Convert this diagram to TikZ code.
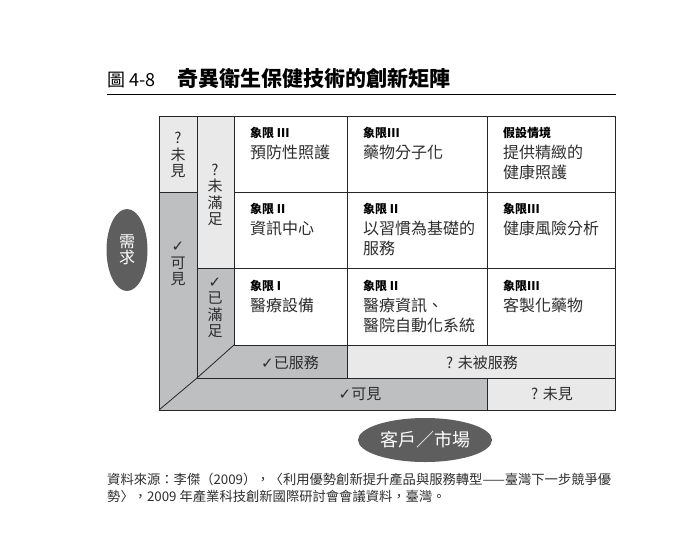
\documentclass[tikz,border=0pt]{standalone}
\usepackage{fontspec}
\setmainfont{Noto Sans CJK TC}
\newfontfamily\symfont{DejaVu Sans}
\usetikzlibrary{shapes.geometric}
\definecolor{darkg}{RGB}{190,191,193}
\definecolor{lightg}{RGB}{233,233,234}
\definecolor{ellg}{RGB}{94,94,94}
\definecolor{txt}{RGB}{45,45,45}
\newcommand{\ck}{{\symfont\char"2713}}
\begin{document}
\begin{tikzpicture}[x=1pt,y=-1pt,
  grid/.style={draw=black!85,line width=0.8pt},
  hdr/.style={anchor=base west,inner sep=0pt,font=\bfseries\fontsize{12}{14}\selectfont,text=black},
  body/.style={anchor=north west,inner sep=0pt,align=left,font=\fontsize{16}{19.5}\selectfont,text=txt},
  vlab/.style={inner sep=0pt,align=center,font=\fontsize{15}{16.5}\selectfont,text=txt},
  hlab/.style={inner sep=0pt,font=\fontsize{15}{17}\selectfont,text=txt},
  oval/.style={ellipse,fill=ellg,text=white,inner sep=0pt}]
\useasboundingbox (0,0) rectangle (691,547);

% title
\node[anchor=base west,inner sep=0pt,font=\fontsize{18}{20}\selectfont] (fig) at (107,86) {圖 4-8};
\node[anchor=base west,inner sep=0pt,font=\bfseries\fontsize{21}{24}\selectfont] (title) at (177,86) {奇異衛生保健技術的創新矩陣};
\draw[line width=1pt] (107,94) -- (616,94);

% fills
\fill[lightg] (159,116) rectangle (197,192);
\fill[darkg] (159,192) -- (197,192) -- (197,378) -- (487,378) -- (487,410) -- (159,410) -- cycle;
\fill[lightg] (197,116) rectangle (234,268);
\fill[darkg] (197,268) -- (234,268) -- (234,345) -- (347,345) -- (347,378) -- (197,378) -- cycle;
\fill[lightg] (347,345) rectangle (615,378);
\fill[lightg] (487,378) rectangle (615,410);

% lines
\draw[grid] (159,116) rectangle (615,410);
\draw[grid] (197,116) -- (197,378) -- (615,378);
\draw[grid] (234,116) -- (234,345) -- (615,345);
\draw[grid] (347,116) -- (347,378);
\draw[grid] (487,116) -- (487,345);
\draw[grid] (487,378) -- (487,410);
\draw[grid] (159,192) -- (197,192);
\draw[grid] (234,192) -- (615,192);
\draw[grid] (197,268) -- (615,268);
\draw[grid] (197,378) -- (234,345);
\draw[grid] (159,410) -- (197,378);

% cells row 1
\node[hdr] (h11) at (250,137) {象限 III};
\node[body] (b11) at (250,145) {預防性照護};
\node[hdr] (h12) at (363,137) {象限III};
\node[body] (b12) at (363,145) {藥物分子化};
\node[hdr] (h13) at (503,137) {假設情境};
\node[body] (b13) at (503,145) {提供精緻的\\健康照護};
% row 2
\node[hdr] (h21) at (250,213) {象限 II};
\node[body] (b21) at (250,221) {資訊中心};
\node[hdr] (h22) at (363,213) {象限 II};
\node[body] (b22) at (363,221) {以習慣為基礎的\\服務};
\node[hdr] (h23) at (503,213) {象限III};
\node[body] (b23) at (503,221) {健康風險分析};
% row 3
\node[hdr] (h31) at (250,290) {象限 I};
\node[body] (b31) at (250,298) {醫療設備};
\node[hdr] (h32) at (363,290) {象限 II};
\node[body] (b32) at (363,298) {醫療資訊、\\醫院自動化系統};
\node[hdr] (h33) at (503,290) {象限III};
\node[body] (b33) at (503,298) {客製化藥物};

% side labels
\node[vlab] (unseenL) at (178,155) {?\\未\\見};
\node[vlab] (seenL) at (178,264) {\ck\\可\\見};
\node[vlab] (unmet) at (215,195) {?\\未\\滿\\足};
\node[vlab] (met) at (215,308) {\ck\\已\\滿\\足};

% bottom labels
\node[hlab] (served) at (290,363) {\ck 已服務};
\node[hlab] (unserved) at (482,363) {? 未被服務};
\node[hlab] (seenB) at (360,394) {\ck 可見};
\node[hlab] (unseenB) at (552,394) {? 未見};

% ovals
\node[oval,minimum width=41pt,minimum height=82pt,align=center,font=\fontsize{16}{16}\selectfont] (demand) at (127,250) {需\\求};
\node[oval,minimum width=134pt,minimum height=44pt,font=\fontsize{18}{20}\selectfont] (market) at (425,440) {客戶／市場};

% source
\node[anchor=base west,inner sep=0pt,align=left,font=\fontsize{13.3}{16.5}\selectfont,text=txt] (src) at (107,501)
 {資料來源：李傑（2009），〈利用優勢創新提升產品與服務轉型——臺灣下一步競爭優\\勢〉，2009 年產業科技創新國際研討會會議資料，臺灣。};
\end{tikzpicture}
\end{document}
